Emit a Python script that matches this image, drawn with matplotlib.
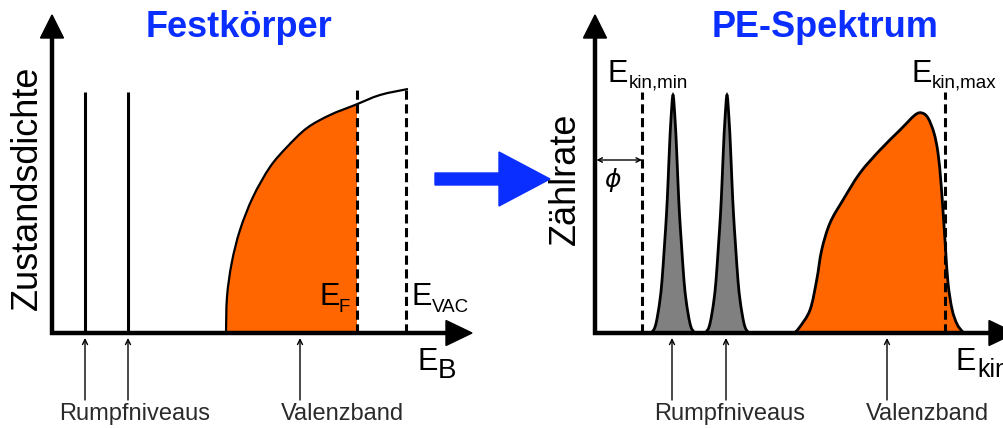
import numpy as np
import matplotlib
matplotlib.use('Agg')
import matplotlib.pyplot as plt
from matplotlib.path import Path
from matplotlib.patches import PathPatch, Polygon, Rectangle

plt.rcParams['font.family'] = ['Liberation Sans', 'DejaVu Sans']

# --- Festkörper: Zustandsdichte über Bindungsenergie (willkürliche Einheiten)
core_levels = [33, 76]          # Rumpfniveaus
core_height = 241
e_fermi = 305
e_vac = 354
dos_x = [174, 175, 179.7, 188, 201, 218, 235, 255, 278, 303, 328, 356]
dos_y = [0, 36, 70, 103, 136, 166, 186, 205, 218, 228, 238, 244]

# --- PE-Spektrum: Zählrate über kinetischer Energie
e_kin_min = 47
e_kin_max = 350
peak_pos = [78, 132]
peak_height = 238
# halbes Linienprofil eines Rumpfniveau-Peaks: Abstand / relative Höhe
peak_dx = [0, 2, 3.5, 5, 6.5, 8.5, 11, 13, 15, 17, 19, 22]
peak_frac = [1.0, 0.9, 0.78, 0.63, 0.5, 0.37, 0.22, 0.14, 0.084, 0.04, 0.015, 0.0]
vb_x = [199, 204, 215, 221.7, 226.7, 235, 248, 265, 285, 305, 320, 327,
        333, 339, 343, 346, 348.5, 350.5, 353, 357, 362, 368, 372]
vb_y = [0, 5, 23, 53, 83, 110, 133, 160, 183, 203, 218, 220,
        215, 200, 180, 150, 115, 85, 50, 24, 9, 1, 0]

ORANGE = '#ff6600'
GREY = '#808080'
BLUE = '#0a2eff'
TXT = '#2a2a2a'

W, H = 1004, 428
fig = plt.figure(figsize=(W / 100, H / 100), dpi=100)


def panel(x0, y0, w=420, h=318):
    # Ursprung (x0, y0) in Pixeln von oben links, 1 Einheit = 1 Pixel
    ax = fig.add_axes([x0 / W, (H - y0) / H, w / W, h / H])
    ax.set_xlim(0, w)
    ax.set_ylim(0, h)
    ax.axis('off')
    return ax


def smooth(xs, ys):
    # Catmull-Rom durch die Stützpunkte als Bezier-Pfad
    p = np.column_stack([xs, ys]).astype(float)
    verts, codes = [p[0]], [Path.MOVETO]
    for i in range(len(p) - 1):
        p0 = p[i - 1] if i > 0 else p[i]
        p3 = p[i + 2] if i + 2 < len(p) else p[i + 1]
        verts += [p[i] + (p[i + 1] - p0) / 6, p[i + 1] - (p3 - p[i]) / 6, p[i + 1]]
        codes += [Path.CURVE4] * 3
    return verts, codes


def closed(xs, ys):
    v, c = smooth(xs, ys)
    v = v + [(xs[-1], 0), (xs[0], 0), (xs[0], 0)]
    c = c + [Path.LINETO, Path.LINETO, Path.CLOSEPOLY]
    return Path(v, c)


def axes_arrows(ax, w=420, h=318):
    ax.plot([0, 0], [-2, h - 22], color='k', lw=3.2, solid_capstyle='butt', clip_on=False)
    ax.add_patch(Polygon([(-11.5, h - 23), (11.5, h - 23), (0, h)], closed=True,
                         color='k', clip_on=False))
    ax.plot([-2, w - 24], [0, 0], color='k', lw=3.2, solid_capstyle='butt', clip_on=False)
    ax.add_patch(Polygon([(w - 26, -12.5), (w - 26, 12.5), (w, 0)], closed=True,
                         color='k', clip_on=False))


def label_arrow(ax, x):
    ax.annotate('', xy=(x, -5), xytext=(x, -67),
                arrowprops=dict(arrowstyle='->', lw=1.0, color='k',
                                shrinkA=0, shrinkB=0, mutation_scale=9),
                annotation_clip=False)


def energy_label(ax, x, y, sub, sub_dx, sub_dy, size=22, sub_size=13.5):
    ax.text(x, y, 'E', fontsize=size, ha='left', va='baseline', clip_on=False)
    ax.text(x + sub_dx, y + sub_dy, sub, fontsize=sub_size, ha='left', va='baseline',
            clip_on=False)


# ---------------- linkes Bild ----------------
axl = panel(52, 333)

fill = PathPatch(closed(dos_x, dos_y), facecolor=ORANGE, edgecolor='none')
axl.add_patch(fill)
fill.set_clip_path(Rectangle((0, 0), e_fermi, 320, transform=axl.transData))
v, c = smooth(dos_x, dos_y)
axl.add_patch(PathPatch(Path(v, c), facecolor='none', edgecolor='k', lw=1.6))

for x in core_levels:
    axl.plot([x, x], [0, core_height], color='k', lw=2.2, solid_capstyle='butt')
for x in (e_fermi, e_vac):
    axl.plot([x, x], [0, dos_y[-1]], color='k', lw=2.2, ls=(0, (3, 1.5)))

axes_arrows(axl)

axl.text(187, 296, 'Festkörper', fontsize=26, fontweight='bold', color=BLUE,
         ha='center', va='baseline')
axl.text(-25, 145, 'Zustandsdichte', fontsize=26, rotation=90, ha='center', va='center')
energy_label(axl, 268, 28, 'F', 19, -7)
energy_label(axl, 359, 28, 'VAC', 21, -7)
energy_label(axl, 365, -37, 'B', 20.5, -8, sub_size=20)

for x in core_levels + [248]:
    label_arrow(axl, x)
axl.text(83, -87, 'Rumpfniveaus', fontsize=17, color=TXT, ha='center', va='baseline')
axl.text(290, -87, 'Valenzband', fontsize=17, color=TXT, ha='center', va='baseline')

# Übergangspfeil
axl.add_patch(Polygon([(383, 148), (447, 148), (447, 127), (498, 154),
                       (447, 181), (447, 160), (383, 160)], closed=True,
                      color=BLUE, clip_on=False))

# ---------------- rechtes Bild ----------------
axr = panel(595, 333)

half_x = np.array(peak_dx)
half_y = np.array(peak_frac) * peak_height
for pos in peak_pos:
    px = np.concatenate([pos - half_x[::-1], pos + half_x[1:]])
    py = np.concatenate([half_y[::-1], half_y[1:]])
    axr.add_patch(PathPatch(closed(px, py), facecolor=GREY, edgecolor='none'))
    v, c = smooth(px, py)
    axr.add_patch(PathPatch(Path(v, c), facecolor='none', edgecolor='k', lw=2.0))

axr.add_patch(PathPatch(closed(vb_x, vb_y), facecolor=ORANGE, edgecolor='none'))
v, c = smooth(vb_x, vb_y)
axr.add_patch(PathPatch(Path(v, c), facecolor='none', edgecolor='k', lw=2.0))

for x in (e_kin_min, e_kin_max):
    axr.plot([x, x], [0, 241], color='k', lw=2.2, ls=(0, (3, 1.5)))

axes_arrows(axr)

# Austrittsarbeit
axr.annotate('', xy=(1.5, 173), xytext=(e_kin_min, 173),
             arrowprops=dict(arrowstyle='<->', lw=1.0, color='k',
                             shrinkA=0, shrinkB=0, mutation_scale=8))
axr.text(18, 153, r'$\phi$', fontsize=18, ha='center', va='center')

axr.text(230, 296, 'PE-Spektrum', fontsize=26, fontweight='bold', color=BLUE,
         ha='center', va='baseline')
axr.text(-30, 154, 'Zählrate', fontsize=26, rotation=90, ha='center', va='center')
energy_label(axr, 13, 251, 'kin,min', 21, -6)
energy_label(axr, 316, 251, 'kin,max', 21, -6)
energy_label(axr, 361, -37, 'kin', 21, -7, sub_size=18)

for x in peak_pos + [293]:
    label_arrow(axr, x - 1)
axr.text(135, -87, 'Rumpfniveaus', fontsize=17, color=TXT, ha='center', va='baseline')
axr.text(332, -87, 'Valenzband', fontsize=17, color=TXT, ha='center', va='baseline')

fig.savefig('out.png', dpi=100)
